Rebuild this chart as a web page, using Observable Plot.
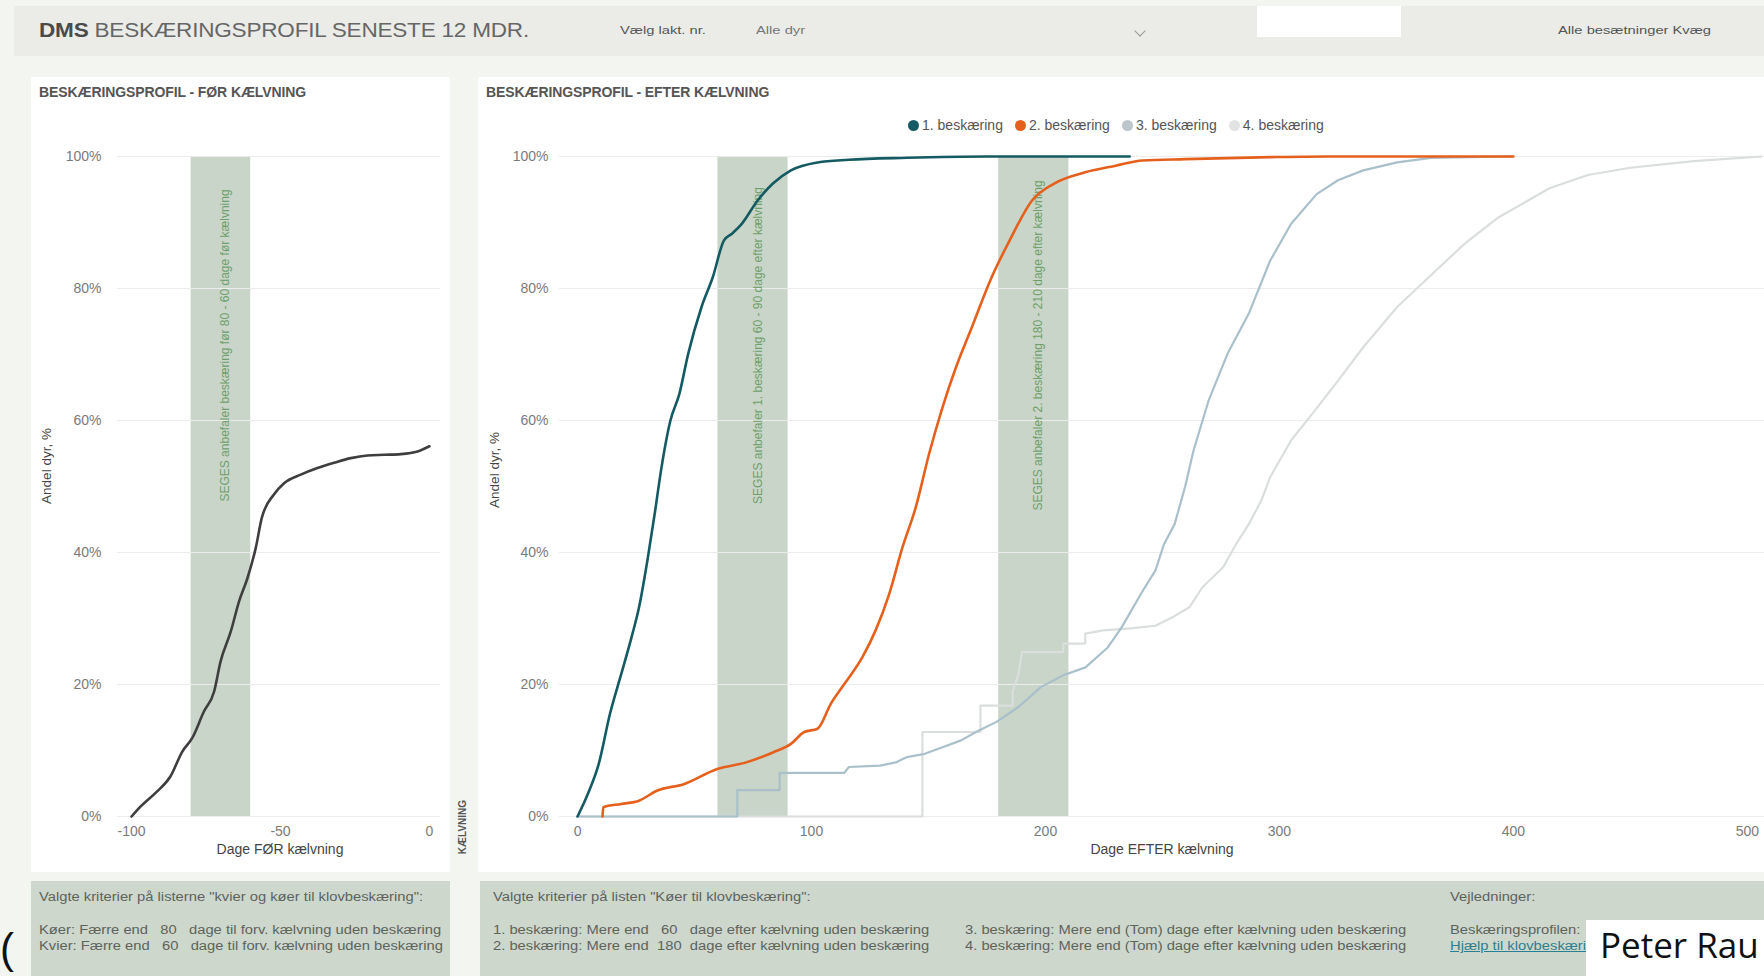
<!DOCTYPE html>
<html><head><meta charset="utf-8">
<script src="https://cdn.jsdelivr.net/npm/d3@7"></script>
<script src="https://cdn.jsdelivr.net/npm/@observablehq/plot@0.6"></script>
<style>
html,body{margin:0;padding:0;width:1764px;height:976px;overflow:hidden;background:#f3f5f1;font-family:"Liberation Sans",Arial,sans-serif;}
#root{position:relative;width:1764px;height:976px;}
.abs{position:absolute;white-space:pre;}
.rot{transform:translate(-50%,-50%) rotate(-90deg);}
.box{background:#cdd7cc;}
.btxt{font-size:12.5px;color:#5d635d;line-height:16px;transform:scaleX(1.18);transform-origin:0 0;}
.htxt{font-size:11.5px;transform:scaleX(1.28);transform-origin:0 0;}
</style></head><body>
<div id="root">
  <div class="abs" style="left:14px;top:6px;width:1750px;height:50px;background:#ebece7;"></div>
  <div class="abs" style="left:39px;top:17px;font-size:20.5px;line-height:26px;color:#666;letter-spacing:-0.2px;transform:scaleX(1.1);transform-origin:0 0;"><b style="color:#4a4a4a">DMS</b> BESKÆRINGSPROFIL SENESTE 12 MDR.</div>
  <div class="abs htxt" style="left:620px;top:24px;color:#555;">Vælg lakt. nr.</div>
  <div class="abs htxt" style="left:756px;top:24px;color:#777;">Alle dyr</div>
  <div class="abs" style="left:1136px;top:27px;width:7px;height:7px;border-right:1px solid #999;border-bottom:1px solid #999;transform:rotate(45deg);"></div>
  <div class="abs" style="left:1257px;top:6px;width:144px;height:31px;background:#fff;"></div>
  <div class="abs htxt" style="left:1558px;top:24px;color:#555;">Alle besætninger Kvæg</div>

  <div class="abs" style="left:31px;top:77px;width:419px;height:795px;background:#fff;"></div>
  <div class="abs" style="left:478px;top:77px;width:1286px;height:795px;background:#fff;"></div>
  <div class="abs" style="left:39px;top:84px;font-size:14px;font-weight:bold;color:#555;letter-spacing:-0.1px;">BESKÆRINGSPROFIL - FØR KÆLVNING</div>
  <div class="abs" style="left:486px;top:84px;font-size:14px;font-weight:bold;color:#555;letter-spacing:-0.1px;">BESKÆRINGSPROFIL - EFTER KÆLVNING</div>

  <div id="leftChart" class="abs" style="left:31px;top:100px;"></div>
  <div id="rightChart" class="abs" style="left:478px;top:100px;"></div>
  <div id="legend" class="abs" style="left:908px;top:117px;display:flex;align-items:center;font-size:14px;color:#555;"></div>

  <div class="abs rot" style="left:46px;top:466px;font-size:13.5px;color:#444;">Andel dyr, %</div>
  <div class="abs rot" style="left:494px;top:470px;font-size:13.5px;color:#444;">Andel dyr, %</div>
  <div class="abs" style="left:280px;top:849px;transform:translate(-50%,-50%);font-size:14px;color:#444;">Dage FØR kælvning</div>
  <div class="abs" style="left:1162px;top:849px;transform:translate(-50%,-50%);font-size:14px;color:#444;">Dage EFTER kælvning</div>
  <div class="abs rot" style="left:462px;top:827px;font-size:10px;font-weight:bold;color:#555;">KÆLVNING</div>

  <div class="abs" style="left:0px;top:924px;font-size:42px;line-height:50px;color:#111;">(</div>
  <div class="abs box" style="left:31px;top:881px;width:419px;height:95px;"></div>
  <div class="abs box" style="left:480px;top:881px;width:1284px;height:95px;"></div>
  <div class="abs btxt" style="left:39px;top:889px;">Valgte kriterier på listerne "kvier og køer til klovbeskæring":</div>
  <div class="abs btxt" style="left:39px;top:922px;">Køer: Færre end   80   dage til forv. kælvning uden beskæring
Kvier: Færre end   60   dage til forv. kælvning uden beskæring</div>
  <div class="abs btxt" style="left:493px;top:889px;">Valgte kriterier på listen "Køer til klovbeskæring":</div>
  <div class="abs btxt" style="left:493px;top:922px;">1. beskæring: Mere end   60   dage efter kælvning uden beskæring
2. beskæring: Mere end  180  dage efter kælvning uden beskæring</div>
  <div class="abs btxt" style="left:965px;top:922px;">3. beskæring: Mere end (Tom) dage efter kælvning uden beskæring
4. beskæring: Mere end (Tom) dage efter kælvning uden beskæring</div>
  <div class="abs btxt" style="left:1450px;top:889px;">Vejledninger:</div>
  <div class="abs btxt" style="left:1450px;top:922px;">Beskæringsprofilen: 
<span style="color:#2b7f90;text-decoration:underline;">Hjælp til klovbeskæring</span></div>
  <div class="abs" style="left:1586px;top:920px;width:178px;height:56px;background:#fff;"></div>
  <div class="abs" style="left:1600px;top:922px;font-family:'Open Sans',sans-serif;font-size:35px;line-height:46px;color:#111;">Peter Rau</div>
</div>
<script>
// ---- data ----
const yTicks = [0, 20, 40, 60, 80, 100];
const preXTicks = [-100, -50, 0];
const postXTicks = [0, 100, 200, 300, 400, 500];

const preBand = [{x1: -80, x2: -60, label: "SEGES anbefaler beskæring før 80 - 60 dage før kælvning"}];
const postBands = [
  {x1: 60, x2: 90, label: "SEGES anbefaler 1. beskæring 60 - 90 dage efter kælvning"},
  {x1: 180, x2: 210, label: "SEGES anbefaler 2. beskæring 180 - 210 dage efter kælvning"}
];

// days before calving, cumulative % trimmed
const preCurve = [[-100,0],[-97,1.5],[-91.4,3.8],[-86.9,6.1],[-83,9.8],[-79.6,11.9],[-75.7,15.9],[-72.3,18.9],[-70.1,23.5],[-66.7,28],[-63.9,32.6],[-61.1,36.1],[-58.3,40.7],[-56.3,45.2],[-52.2,48.8],[-48.8,50.5],[-43.2,51.8],[-37.6,52.8],[-32,53.6],[-26.4,54.3],[-20.8,54.7],[-15.2,54.8],[-9.6,54.9],[-4,55.3],[0,56.1]];

const seriesNames = ["1. beskæring", "2. beskæring", "3. beskæring", "4. beskæring"];
const seriesColors = ["#145a62", "#e5601d", "#a9c0cb", "#dadedd"];
const legendDotColors = ["#145a62", "#e5601d", "#bcc6ca", "#e2e4e3"];

const trim1 = [[0,0],[4.4,3.4],[9.1,8],[13.9,15.6],[18.7,21.6],[23.5,27.7],[26.3,31.7],[30.1,39.3],[33,45.9],[35.9,52.9],[39.7,60],[43.5,64],[47.3,70.1],[53,77.2],[57.8,81.7],[62.6,87.3],[66,88.3],[70.2,89.8],[76.9,93.3],[83.5,95.9],[91.2,97.9],[102.6,99.1],[116,99.5],[140.8,99.8],[175,100],[236,100]];
const trim2 = [[10.7,0],[11,1.4],[18.7,1.9],[26.3,2.4],[33.9,3.9],[45.4,4.9],[59.7,7.2],[72.1,8.2],[83.5,9.7],[91.2,11],[96.9,12.8],[102.6,13.3],[108.3,17.1],[114.1,20.1],[121.7,24.1],[127.4,28.2],[133.2,33.7],[138.9,40.8],[144.6,46.9],[150.3,55],[156,62],[161.8,68.1],[168.5,74.1],[177,81.7],[184.7,87.3],[194.2,93.3],[203.7,95.9],[217,97.6],[230,98.6],[241.6,99.4],[259.7,99.6],[296,99.9],[320,100],[400,100]];
const trim3 = [[0,0],[68.3,0],[68.3,4],[86.4,4],[86.4,6.6],[114,6.6],[116,7.5],[129.3,7.7],[136,8.2],[140.8,9],[148.4,9.5],[156,10.5],[163.7,11.5],[171.3,13],[178.9,14.3],[188.5,16.6],[198,19.6],[207.6,21.4],[217.1,22.6],[226.6,25.6],[232.6,28.7],[241.6,34.2],[247,37.3],[250.7,41.3],[255.2,44.3],[259.7,50],[263.3,55.5],[269.7,63],[277.8,70.1],[286.9,76.2],[296,84.2],[305,89.8],[315.9,94.3],[325,96.4],[335.8,97.9],[350.3,99.1],[364.7,99.8],[399,100]];
const trim4 = [[0,0],[147.4,0],[147.4,12.8],[172.2,12.8],[172.2,16.8],[186,16.8],[186,19],[188.5,21.6],[190,24.9],[207.6,24.9],[207.6,26.2],[217,26.2],[217,27.7],[224.7,28.2],[236.2,28.5],[247,28.9],[254.3,30.2],[261.5,31.7],[267,34.7],[276,37.8],[281.5,41.3],[286.9,44.3],[292.3,47.9],[296,51.4],[305,57],[314,61],[325,66],[335.8,71.1],[350.3,77.2],[364.7,82],[379.2,86.8],[393.7,90.8],[404.6,93],[415.4,95.2],[431.8,97.2],[449.9,98.3],[477,99.3],[506,100]];
const trimSeries = [trim1, trim2, trim3, trim4];
const seriesCurves = ["monotone-x", "monotone-x", "linear", "linear"];

// ---- styling ----
const bandColor = "#c9d5c8";
const bandText = "#6e9f6c";
const gridColor = "#ececec";
const pct = d => d + "%";
const plain = d => String(d);
const baseStyle = {background: "transparent", fontFamily: "Liberation Sans, Arial, sans-serif", fontSize: "14px", color: "#7a7a7a", overflow: "visible"};

const leftPlot = Plot.plot({
  width: 419, height: 772,
  marginLeft: 86, marginRight: 10, marginTop: 56, marginBottom: 56,
  style: baseStyle,
  x: {domain: [-104.7, 3.7], ticks: preXTicks, tickSize: 0, tickPadding: 10, tickFormat: plain, label: null},
  y: {domain: [0, 100], ticks: yTicks, tickSize: 0, tickPadding: 16, tickFormat: pct, label: null},
  marks: [
    Plot.rect(preBand, {x1: "x1", x2: "x2", y1: 0, y2: 100, fill: bandColor}),
    Plot.ruleY(yTicks, {stroke: gridColor, strokeWidth: 1}),
    Plot.text(preBand, {x: d => (d.x1 + d.x2) / 2, frameAnchor: "top", dy: 189, text: "label", rotate: -90, fill: bandText, fontSize: 12}),
    Plot.line(preCurve, {x: d => d[0], y: d => d[1], stroke: "#3e3e3e", strokeWidth: 2.6, strokeLinejoin: "round", curve: "monotone-x"})
  ]
});
document.getElementById("leftChart").appendChild(leftPlot);

const lineMarks = [];
for (let i = trimSeries.length - 1; i >= 0; i--) {
  lineMarks.push(Plot.line(trimSeries[i], {x: d => d[0], y: d => d[1], stroke: seriesColors[i], strokeWidth: i < 2 ? 2.6 : 2.2, strokeLinejoin: "round", curve: seriesCurves[i]}));
}

const rightPlot = Plot.plot({
  width: 1286, height: 772,
  marginLeft: 81, marginRight: 0, marginTop: 56, marginBottom: 56,
  style: baseStyle,
  x: {domain: [-7.7, 507.3], ticks: postXTicks, tickSize: 0, tickPadding: 10, tickFormat: plain, label: null},
  y: {domain: [0, 100], ticks: yTicks, tickSize: 0, tickPadding: 11, tickFormat: pct, label: null},
  marks: [
    Plot.rect(postBands, {x1: "x1", x2: "x2", y1: 0, y2: 100, fill: bandColor}),
    Plot.ruleY(yTicks, {stroke: gridColor, strokeWidth: 1}),
    Plot.text(postBands, {x: d => (d.x1 + d.x2) / 2, frameAnchor: "top", dy: 189, text: "label", rotate: -90, fill: bandText, fontSize: 12}),
    ...lineMarks
  ]
});
document.getElementById("rightChart").appendChild(rightPlot);

// legend
const legend = document.getElementById("legend");
seriesNames.forEach((name, i) => {
  const item = document.createElement("div");
  item.style.cssText = "display:flex;align-items:center;margin-right:" + (i < 3 ? "12px" : "0");
  const dot = document.createElement("span");
  dot.style.cssText = "display:inline-block;width:11px;height:11px;border-radius:50%;margin-right:3px;background:" + legendDotColors[i];
  const t = document.createElement("span");
  t.textContent = name;
  item.appendChild(dot); item.appendChild(t);
  legend.appendChild(item);
});
</script>
</body></html>
